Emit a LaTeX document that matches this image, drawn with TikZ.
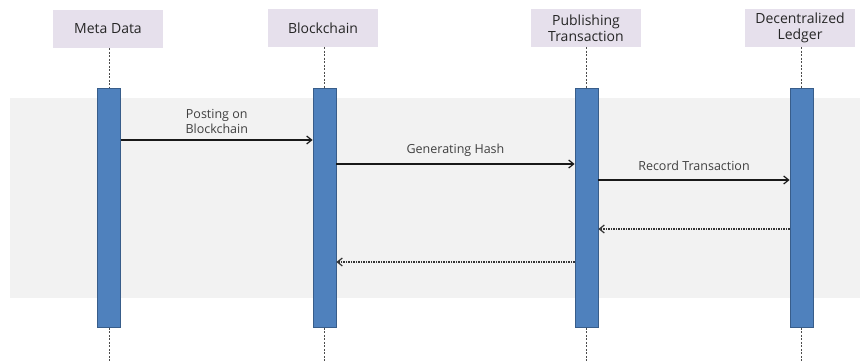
\documentclass[tikz,border=0pt]{standalone}
\usepackage{fontspec}
\setmainfont{Open Sans}
\usetikzlibrary{arrows.meta}
\definecolor{headfill}{HTML}{E6E0EC}
\definecolor{barfill}{HTML}{4F81BD}
\definecolor{barline}{HTML}{385D8A}
\definecolor{band}{HTML}{F2F2F2}
\definecolor{txt}{HTML}{404040}
\tikzset{
  header/.style={fill=headfill, draw=none, minimum width=110pt, minimum height=38pt,
    align=center, text=black!85, font=\fontsize{14}{15.5}\selectfont, inner sep=2pt},
  actbar/.style={fill=barfill, draw=barline, line width=0.8pt, minimum width=23pt,
    minimum height=239pt, inner sep=0pt, anchor=north},
  lifeline/.style={draw=black!70, dashed, dash pattern=on 2pt off 1.5pt, line width=0.6pt},
  msg/.style={draw=black!90, line width=1.2pt, -{Straight Barb[length=5pt,width=8pt]}},
  reply/.style={draw=black!80, line width=1.2pt, dash pattern=on 1.5pt off 1pt,
    -{Straight Barb[length=5pt,width=8pt]}},
  msglabel/.style={text=txt, font=\fontsize{12.5}{15}\selectfont, align=center, inner sep=1pt}
}
\begin{document}
\begin{tikzpicture}[x=1pt, y=-1pt]
\useasboundingbox (0,0) rectangle (860,362);
% shaded interaction frame
\fill[band] (10,98) rectangle (860,298);

% participants
\node[header] (hMeta) at (108,29) {Meta Data};
\node[header] (hChain) at (323,28) {Blockchain};
\node[header] (hPub) at (586,28) {Publishing\\Transaction};
\node[header] (hLedger) at (800,28) {Decentralized\\Ledger};

% activation bars
\node[actbar] (bMeta) at (109,88) {};
\node[actbar] (bChain) at (324.5,88) {};
\node[actbar] (bPub) at (586.5,88) {};
\node[actbar] (bLedger) at (801.5,88) {};

% lifelines
\foreach \h/\b in {hMeta/bMeta, hChain/bChain, hPub/bPub, hLedger/bLedger} {
  \draw[lifeline] (\b.north |- \h.south) -- (\b.north);
  \draw[lifeline] (\b.south) -- (\b.south |- 0,362);
}

% messages
\draw[msg] (bMeta.east |- 0,140) -- node[msglabel, above=5pt] {Posting on\\Blockchain} (bChain.west |- 0,140);
\draw[msg] (bChain.east |- 0,164) -- node[msglabel, above=6pt] {Generating Hash} (bPub.west |- 0,164);
\draw[msg] (bPub.east |- 0,180) -- node[msglabel, above=8pt] {Record Transaction} (bLedger.west |- 0,180);

% replies
\draw[reply] (bLedger.west |- 0,229) -- (bPub.east |- 0,229);
\draw[reply] (bPub.west |- 0,262) -- (bChain.east |- 0,262);
\end{tikzpicture}
\end{document}
